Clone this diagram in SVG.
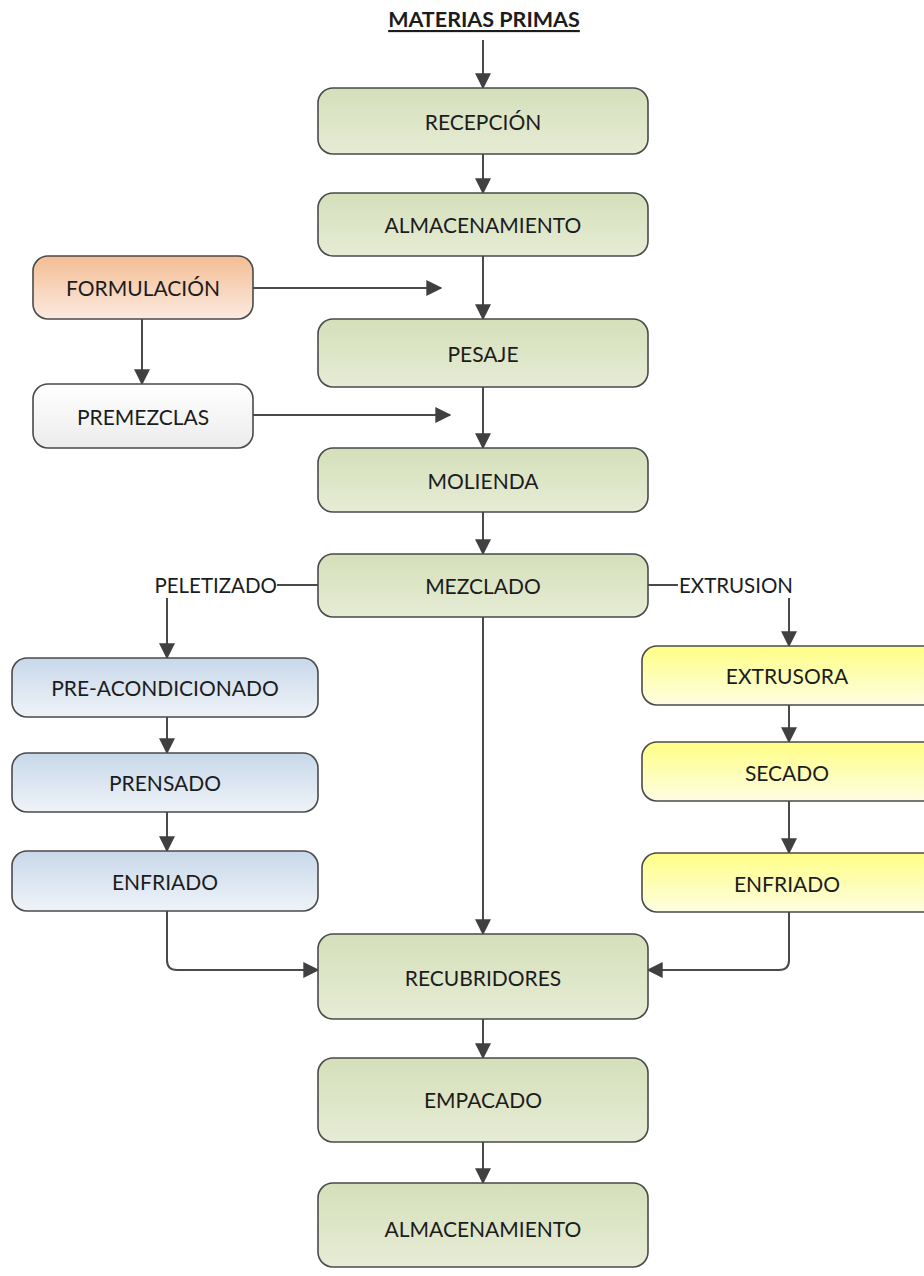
<svg xmlns="http://www.w3.org/2000/svg" width="924" height="1276" viewBox="0 0 924 1276">
<defs>
<linearGradient id="gGreen" x1="0" y1="0" x2="0" y2="1"><stop offset="0" stop-color="#d5dfba"/><stop offset="1" stop-color="#e6ecd5"/></linearGradient>
<linearGradient id="gBlue" x1="0" y1="0" x2="0" y2="1"><stop offset="0" stop-color="#c8d8ea"/><stop offset="1" stop-color="#eff3f8"/></linearGradient>
<linearGradient id="gYellow" x1="0" y1="0" x2="0" y2="1"><stop offset="0" stop-color="#ffff85"/><stop offset="1" stop-color="#fdfde2"/></linearGradient>
<linearGradient id="gOrange" x1="0" y1="0" x2="0" y2="1"><stop offset="0" stop-color="#f4bd94"/><stop offset="1" stop-color="#fbeae0"/></linearGradient>
<linearGradient id="gWhite" x1="0" y1="0" x2="0" y2="1"><stop offset="0" stop-color="#ffffff"/><stop offset="1" stop-color="#ececec"/></linearGradient>
<marker id="arr" viewBox="0 0 12 12" refX="11" refY="6" markerWidth="16" markerHeight="16" markerUnits="userSpaceOnUse" orient="auto">
<path d="M0,0 L12,6 L0,12 Z" fill="#404040"/>
</marker>
</defs>
<style>
.box{stroke:#4a4a4a;stroke-width:1.6}
.lbl{font-family:Lato,"Open Sans","Liberation Sans",sans-serif;font-size:21px;fill:#1c1c1c;text-anchor:middle;dominant-baseline:central}
.side{font-family:Lato,"Open Sans","Liberation Sans",sans-serif;font-size:20.5px;fill:#1c1c1c;dominant-baseline:central}
.ln{stroke:#4a4a4a;stroke-width:2;fill:none}
</style>
<rect width="924" height="1276" fill="#ffffff"/>
<g id="title"><text x="484" y="19" class="lbl" style="font-weight:bold;font-size:21.5px;text-decoration:underline">MATERIAS PRIMAS</text></g>
<g id="connectors">
<line class="ln" x1="483" y1="40" x2="483" y2="88" marker-end="url(#arr)"/>
<line class="ln" x1="483" y1="154" x2="483" y2="193" marker-end="url(#arr)"/>
<line class="ln" x1="483" y1="256" x2="483" y2="319" marker-end="url(#arr)"/>
<line class="ln" x1="483" y1="387" x2="483" y2="448" marker-end="url(#arr)"/>
<line class="ln" x1="483" y1="512" x2="483" y2="554" marker-end="url(#arr)"/>
<line class="ln" x1="483" y1="617" x2="483" y2="934" marker-end="url(#arr)"/>
<line class="ln" x1="483" y1="1019" x2="483" y2="1058" marker-end="url(#arr)"/>
<line class="ln" x1="483" y1="1142" x2="483" y2="1183" marker-end="url(#arr)"/>
<line class="ln" x1="253" y1="288" x2="441" y2="288" marker-end="url(#arr)"/>
<line class="ln" x1="253" y1="415" x2="450" y2="415" marker-end="url(#arr)"/>
<line class="ln" x1="142" y1="319" x2="142" y2="384" marker-end="url(#arr)"/>
<line class="ln" x1="277" y1="585" x2="318" y2="585"/>
<line class="ln" x1="648" y1="585" x2="678" y2="585"/>
<line class="ln" x1="167" y1="598" x2="167" y2="658" marker-end="url(#arr)"/>
<line class="ln" x1="167" y1="717" x2="167" y2="753" marker-end="url(#arr)"/>
<line class="ln" x1="167" y1="812" x2="167" y2="851" marker-end="url(#arr)"/>
<line class="ln" x1="789" y1="598" x2="789" y2="646" marker-end="url(#arr)"/>
<line class="ln" x1="789" y1="705" x2="789" y2="742" marker-end="url(#arr)"/>
<line class="ln" x1="789" y1="801" x2="789" y2="853" marker-end="url(#arr)"/>
<path class="ln" d="M167,911 L167,960 Q167,970 177,970 L318,970" marker-end="url(#arr)"/>
<path class="ln" d="M789,912 L789,960 Q789,970 779,970 L648,970" marker-end="url(#arr)"/>
</g>
<g id="recepcion"><rect class="box" x="318" y="88" width="330" height="66" rx="15" fill="url(#gGreen)"/><text class="lbl" x="483" y="121">RECEPCIÓN</text></g>
<g id="almacenamiento1"><rect class="box" x="318" y="193" width="330" height="63" rx="15" fill="url(#gGreen)"/><text class="lbl" x="483" y="224">ALMACENAMIENTO</text></g>
<g id="formulacion"><rect class="box" x="33" y="256" width="220" height="63" rx="15" fill="url(#gOrange)"/><text class="lbl" x="143" y="287">FORMULACIÓN</text></g>
<g id="pesaje"><rect class="box" x="318" y="319" width="330" height="68" rx="15" fill="url(#gGreen)"/><text class="lbl" x="483" y="353">PESAJE</text></g>
<g id="premezclas"><rect class="box" x="33" y="384" width="220" height="64" rx="15" fill="url(#gWhite)"/><text class="lbl" x="143" y="416">PREMEZCLAS</text></g>
<g id="molienda"><rect class="box" x="318" y="448" width="330" height="64" rx="15" fill="url(#gGreen)"/><text class="lbl" x="483" y="480">MOLIENDA</text></g>
<g id="mezclado"><rect class="box" x="318" y="554" width="330" height="63" rx="15" fill="url(#gGreen)"/><text class="lbl" x="483" y="585">MEZCLADO</text></g>
<g id="peletizado"><text class="side" x="277" y="585" text-anchor="end">PELETIZADO</text></g>
<g id="extrusion"><text class="side" x="679" y="585">EXTRUSION</text></g>
<g id="preacondicionado"><rect class="box" x="12" y="658" width="306" height="59" rx="15" fill="url(#gBlue)"/><text class="lbl" x="165" y="687">PRE-ACONDICIONADO</text></g>
<g id="prensado"><rect class="box" x="12" y="753" width="306" height="59" rx="15" fill="url(#gBlue)"/><text class="lbl" x="165" y="782">PRENSADO</text></g>
<g id="enfriado1"><rect class="box" x="12" y="851" width="306" height="60" rx="15" fill="url(#gBlue)"/><text class="lbl" x="165" y="881">ENFRIADO</text></g>
<g id="extrusora"><rect class="box" x="642" y="646" width="300" height="59" rx="15" fill="url(#gYellow)"/><text class="lbl" x="787" y="675">EXTRUSORA</text></g>
<g id="secado"><rect class="box" x="642" y="742" width="300" height="59" rx="15" fill="url(#gYellow)"/><text class="lbl" x="787" y="772">SECADO</text></g>
<g id="enfriado2"><rect class="box" x="642" y="853" width="300" height="59" rx="15" fill="url(#gYellow)"/><text class="lbl" x="787" y="883">ENFRIADO</text></g>
<g id="recubridores"><rect class="box" x="318" y="934" width="330" height="85" rx="15" fill="url(#gGreen)"/><text class="lbl" x="483" y="977">RECUBRIDORES</text></g>
<g id="empacado"><rect class="box" x="318" y="1058" width="330" height="84" rx="15" fill="url(#gGreen)"/><text class="lbl" x="483" y="1099">EMPACADO</text></g>
<g id="almacenamiento2"><rect class="box" x="318" y="1183" width="330" height="84" rx="15" fill="url(#gGreen)"/><text class="lbl" x="483" y="1228">ALMACENAMIENTO</text></g>
</svg>
